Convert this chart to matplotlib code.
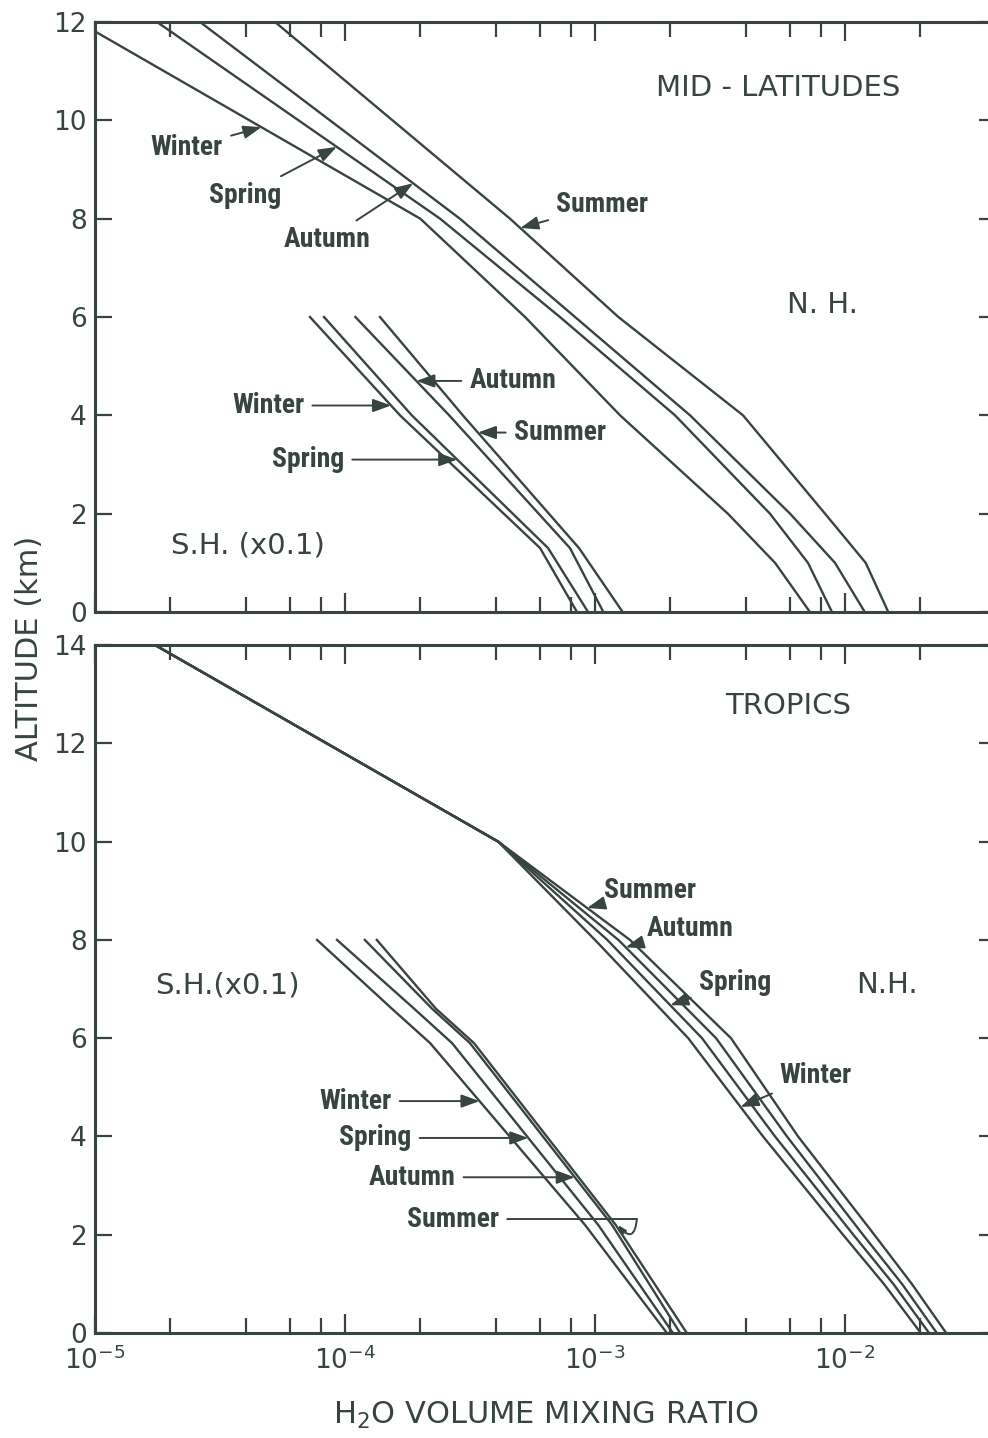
"""
Seasonal water vapour profiles for mid-latitudes and the tropics,
northern hemisphere and (scaled by 0.1) southern hemisphere.
Writes out.png.
"""
import numpy as np
import matplotlib

matplotlib.use("Agg")
import matplotlib.pyplot as plt
from matplotlib.ticker import LogLocator, LogFormatterMathtext, MultipleLocator, NullFormatter

INK = "#38453e"
SEASONS = ["Winter", "Spring", "Autumn", "Summer"]

# --- mid-latitudes, N.H. (altitude in km, H2O volume mixing ratio) ---
MID_NH_ALT = [12, 8, 6, 4, 2, 1, 0]
MID_NH_WINTER = [8.6e-6, 2.0e-4, 5.25e-4, 1.26e-3, 3.40e-3, 5.25e-3, 7.24e-3]
MID_NH_SPRING = [1.77e-5, 2.40e-4, 7.24e-4, 2.09e-3, 5.01e-3, 7.11e-3, 8.87e-3]
MID_NH_AUTUMN = [2.63e-5, 2.88e-4, 8.32e-4, 2.40e-3, 6.03e-3, 9.12e-3, 1.20e-2]
MID_NH_SUMMER = [5.25e-5, 4.57e-4, 1.24e-3, 3.91e-3, 8.32e-3, 1.21e-2, 1.49e-2]

# --- mid-latitudes, S.H. (x0.1) ---
MID_SH_ALT = [6, 4, 1.3, 0]
MID_SH_WINTER = [7.24e-5, 1.66e-4, 6.03e-4, 8.47e-4]
MID_SH_SPRING = [8.24e-5, 1.85e-4, 6.49e-4, 9.38e-4]
MID_SH_AUTUMN = [1.10e-4, 2.61e-4, 7.94e-4, 1.08e-3]
MID_SH_SUMMER = [1.38e-4, 2.96e-4, 8.63e-4, 1.29e-3]

# --- tropics, N.H. ---
TROP_NH_ALT = [14, 10, 8, 6, 4, 2, 1, 0]
TROP_NH_WINTER = [1.74e-5, 4.1e-4, 1.00e-3, 2.36e-3, 4.70e-3, 9.82e-3, 1.43e-2, 2.01e-2]
TROP_NH_SPRING = [1.74e-5, 4.1e-4, 1.12e-3, 2.68e-3, 5.25e-3, 1.08e-2, 1.56e-2, 2.17e-2]
TROP_NH_AUTUMN = [1.74e-5, 4.1e-4, 1.24e-3, 3.05e-3, 5.86e-3, 1.18e-2, 1.69e-2, 2.33e-2]
TROP_NH_SUMMER = [1.74e-5, 4.1e-4, 1.38e-3, 3.50e-3, 6.49e-3, 1.31e-2, 1.85e-2, 2.54e-2]

# --- tropics, S.H. (x0.1) ---
TROP_SH_ALT = [8, 6.6, 5.9, 2.2, 0]
TROP_SH_WINTER = [7.73e-5, 1.54e-4, 2.19e-4, 9.12e-4, 1.94e-3]
TROP_SH_SPRING = [9.29e-5, 1.89e-4, 2.68e-4, 1.03e-3, 2.05e-3]
TROP_SH_AUTUMN = [1.20e-4, 2.23e-4, 3.16e-4, 1.17e-3, 2.19e-3]
TROP_SH_SUMMER = [1.34e-4, 2.31e-4, 3.28e-4, 1.21e-3, 2.33e-3]

# season labels: (text x, text altitude, altitude where the arrow meets the curve)
MID_NH_LABELS = [(2.33e-5, 9.44, 9.86), (3.98e-5, 8.48, 9.46), (8.47e-5, 7.57, 8.72), (1.07e-3, 8.28, 7.81)]
MID_SH_LABELS = [(4.92e-5, 4.2, 4.2), (7.1e-5, 3.1, 3.1), (4.7e-4, 4.7, 4.7), (7.24e-4, 3.65, 3.65)]
TROP_NH_LABELS = [(7.59e-3, 5.25, 4.6), (3.63e-3, 7.14, 6.67), (2.4e-3, 8.24, 7.85), (1.66e-3, 9.01, 8.65)]
TROP_SH_LABELS = [(1.1e-4, 4.72, 4.72), (1.32e-4, 3.97, 3.97), (1.85e-4, 3.17, 3.17)]

LABEL_FONT = dict(family=["Roboto Condensed", "Roboto", "DejaVu Sans"], weight="bold", size=20, color=INK)
PLAIN_FONT = dict(family="DejaVu Sans", size=21, color=INK)
ARROW = dict(arrowstyle="-|>,head_length=0.55,head_width=0.2", color=INK, lw=1.4, shrinkA=4, shrinkB=0)


def tip_x(alt, h2o, level):
    """x of a profile at the given altitude (linear in log mixing ratio)."""
    a = np.asarray(alt, dtype=float)[::-1]
    v = np.log10(np.asarray(h2o, dtype=float))[::-1]
    return 10 ** np.interp(level, a, v)


def setup_axis(ax, ytop, xlabels):
    ax.set_xscale("log")
    ax.set_xlim(1e-5, 4e-2)
    ax.set_ylim(0, ytop)
    ax.xaxis.set_major_locator(LogLocator(base=10, numticks=10))
    ax.xaxis.set_minor_locator(LogLocator(base=10, subs=(2, 4, 6, 8), numticks=10))
    ax.xaxis.set_minor_formatter(NullFormatter())
    ax.xaxis.set_major_formatter(LogFormatterMathtext())
    ax.yaxis.set_major_locator(MultipleLocator(2))
    ax.tick_params(axis="both", which="both", direction="in", top=True, right=True,
                   color=INK, labelcolor=INK, width=1.6, labelsize=19)
    ax.tick_params(axis="x", which="major", length=14, pad=10, labelbottom=xlabels)
    ax.tick_params(axis="x", which="minor", length=10.5)
    ax.tick_params(axis="y", length=12, pad=6)
    for sp in ax.spines.values():
        sp.set_color(INK)
        sp.set_linewidth(2.2)


def draw_group(ax, alt, profiles, labels):
    for h2o in profiles:
        ax.plot(h2o, alt, color=INK, lw=1.7)
    for season, h2o, lab in zip(SEASONS, profiles, labels):
        tx, ty, level = lab
        ax.annotate(season, xy=(tip_x(alt, h2o, level), level), xytext=(tx, ty),
                    ha="center", va="center", **LABEL_FONT, arrowprops=ARROW)


fig = plt.figure(figsize=(9.88, 14.38), dpi=100)
ax_mid = fig.add_axes([0.0962, 0.5744, 0.9114, 0.4103])
ax_trop = fig.add_axes([0.0962, 0.0730, 0.9114, 0.4784])

setup_axis(ax_mid, 12, False)
setup_axis(ax_trop, 14, True)

# mid-latitudes
draw_group(ax_mid, MID_NH_ALT, [MID_NH_WINTER, MID_NH_SPRING, MID_NH_AUTUMN, MID_NH_SUMMER], MID_NH_LABELS)
draw_group(ax_mid, MID_SH_ALT, [MID_SH_WINTER, MID_SH_SPRING, MID_SH_AUTUMN, MID_SH_SUMMER], MID_SH_LABELS)
ax_mid.text(5.4e-3, 10.66, "MID - LATITUDES", ha="center", va="center", **PLAIN_FONT)
ax_mid.text(8.1e-3, 6.24, "N. H.", ha="center", va="center", **PLAIN_FONT)
ax_mid.text(4.1e-5, 1.36, "S.H. (x0.1)", ha="center", va="center", **PLAIN_FONT)

# tropics
draw_group(ax_trop, TROP_NH_ALT, [TROP_NH_WINTER, TROP_NH_SPRING, TROP_NH_AUTUMN, TROP_NH_SUMMER],
           TROP_NH_LABELS)
draw_group(ax_trop, TROP_SH_ALT, [TROP_SH_WINTER, TROP_SH_SPRING, TROP_SH_AUTUMN, TROP_SH_SUMMER],
           TROP_SH_LABELS)

# summer leader runs past the bundle and hooks back onto its curve
hook_x = 1.47e-3
ax_trop.annotate("Summer", xy=(hook_x, 2.32), xytext=(2.7e-4, 2.32), ha="center", va="center",
                 **LABEL_FONT, arrowprops=dict(arrowstyle="-", color=INK, lw=1.4, shrinkA=4, shrinkB=0))
ax_trop.annotate("", xy=(tip_x(TROP_SH_ALT, TROP_SH_SUMMER, 2.2) * 1.02, 2.2), xytext=(hook_x, 2.32),
                 arrowprops=dict(arrowstyle="-|>,head_length=0.5,head_width=0.18", color=INK, lw=1.4,
                                 shrinkA=0, shrinkB=0, connectionstyle="arc3,rad=-1.2"))

ax_trop.text(5.9e-3, 12.76, "TROPICS", ha="center", va="center", **PLAIN_FONT)
ax_trop.text(1.47e-2, 7.08, "N.H.", ha="center", va="center", **PLAIN_FONT)
ax_trop.text(3.37e-5, 7.08, "S.H.(x0.1)", ha="center", va="center", **PLAIN_FONT)

fig.text(0.030, 0.549, "ALTITUDE (km)", rotation=90, ha="center", va="center",
         family="DejaVu Sans", size=22, color=INK)
fig.text(0.553, 0.016, r"H$_\mathregular{2}$O VOLUME MIXING RATIO", ha="center", va="center",
         family="DejaVu Sans", size=22, color=INK)

fig.savefig("out.png", dpi=100)
